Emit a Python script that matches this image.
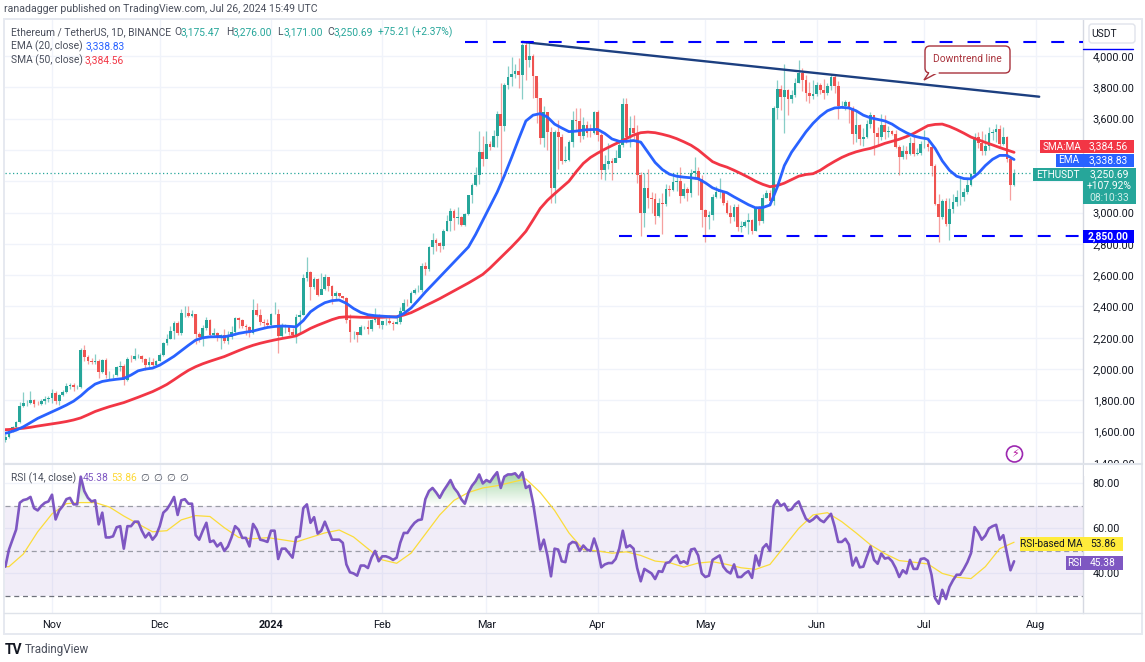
import numpy as np, pandas as pd, seaborn as sns
import matplotlib
matplotlib.use("Agg")
import matplotlib.pyplot as plt
from matplotlib.patches import Rectangle, FancyBboxPatch, Polygon, Circle
from matplotlib.path import Path
from matplotlib.colors import LinearSegmentedColormap

# ---- daily closes / highs / lows ----
oct_c=[1567,1605,1630,1665,1765,1785,1785,1803,1778,1777,1795,1810,1815]
oct_h=[1585,1620,1638,1670,1790,1855,1805,1862,1810,1797,1812,1826,1826]
oct_l=[1535,1560,1595,1625,1655,1755,1762,1780,1760,1768,1770,1780,1790]
nov_c=[1846,1795,1833,1855,1893,1900,1886,1888,2121,2077,2052,2045,2054,1980,2058,1961,1961,1963,2013,2022,1930,2063,2062,2081,2084,2063,2027,2048,2029,2052]
nov_h=[1870,1862,1838,1868,1910,1908,1910,1900,2135,2155,2090,2068,2098,2062,2062,2068,1990,1968,2022,2050,2030,2075,2090,2133,2095,2090,2070,2075,2070,2060]
nov_l=[1785,1775,1770,1825,1850,1875,1860,1875,1880,2050,2030,2035,2030,1940,1975,1945,1935,1945,1958,1985,1900,1925,2048,2055,2070,2045,1995,2015,2020,2025]
dec_c=[2087,2166,2193,2243,2293,2232,2358,2358,2342,2352,2225,2202,2260,2316,2220,2228,2197,2217,2178,2202,2240,2326,2315,2272,2270,2230,2380,2345,2300,2292,2281]
dec_h=[2100,2170,2225,2275,2305,2310,2385,2405,2400,2375,2352,2240,2280,2332,2322,2265,2240,2225,2258,2245,2275,2335,2330,2320,2290,2275,2445,2420,2385,2320,2320]
dec_l=[2050,2085,2155,2190,2195,2215,2220,2335,2330,2330,2160,2170,2150,2250,2205,2205,2180,2130,2165,2160,2195,2220,2265,2265,2220,2205,2225,2340,2280,2270,2260]
jan_c=[2352,2355,2210,2268,2269,2240,2220,2330,2344,2584,2617,2525,2577,2472,2512,2587,2528,2468,2489,2470,2453,2313,2235,2235,2218,2268,2268,2257,2316,2345,2283]
jan_h=[2358,2430,2385,2295,2285,2275,2265,2355,2375,2610,2717,2625,2590,2580,2615,2605,2590,2540,2500,2485,2470,2460,2350,2245,2240,2280,2275,2312,2320,2390,2350]
jan_l=[2268,2350,2100,2205,2230,2220,2220,2165,2230,2345,2560,2440,2512,2470,2495,2505,2500,2415,2445,2460,2445,2295,2170,2195,2170,2215,2255,2225,2245,2300,2265]
feb_c=[2304,2310,2295,2290,2300,2373,2423,2422,2486,2503,2507,2660,2640,2778,2824,2803,2785,2880,2944,3013,2967,2971,2922,2992,3112,3178,3243,3385,3340]
feb_h=[2310,2325,2345,2305,2340,2395,2445,2445,2500,2520,2535,2680,2685,2785,2870,2835,2810,2895,2985,3030,3025,3035,2975,3000,3115,3190,3290,3520,3490]
feb_l=[2255,2280,2285,2250,2285,2290,2360,2405,2420,2480,2495,2490,2600,2625,2735,2755,2750,2770,2880,2885,2890,2925,2915,2915,2985,3060,3170,3185,3300]
mar_c=[3435,3420,3490,3630,3550,3815,3868,3885,3905,3880,4068,3975,4003,3875,3730,3475,3645,3515,3155,3516,3484,3330,3335,3452,3590,3585,3490,3560,3510,3507,3645]
mar_h=[3520,3460,3530,3650,3825,3830,3935,3995,3950,3985,4085,4090,4080,4010,3835,3680,3680,3645,3545,3530,3590,3500,3425,3465,3650,3670,3665,3610,3585,3565,3650]
mar_l=[3400,3400,3420,3420,3197,3520,3790,3810,3860,3793,3723,3845,3930,3730,3570,3440,3420,3400,3060,3060,3280,3310,3320,3330,3420,3530,3450,3470,3480,3480,3500]
apr_c=[3495,3271,3310,3329,3315,3346,3431,3693,3484,3540,3506,3239,3000,3154,3090,3085,2980,3062,3057,3148,3145,3197,3200,3105,3148,3125,3250,3263,3216,3015]
apr_h=[3655,3510,3370,3445,3350,3400,3460,3730,3730,3615,3620,3560,3260,3250,3280,3130,3125,3095,3125,3180,3175,3240,3260,3290,3190,3165,3280,3357,3290,3240]
apr_l=[3460,3215,3210,3275,3205,3320,3405,3420,3445,3420,3470,3190,2852,2910,3030,3000,2925,2970,2862,3040,3105,3140,3140,3060,3090,3075,3100,3215,3115,2910]
may_c=[2970,2985,3100,3130,3136,3058,2995,2970,3035,2905,2912,2940,2950,2880,3037,2945,3093,3122,3071,3665,3787,3738,3780,3725,3748,3825,3890,3845,3765,3747,3760]
may_h=[3020,3010,3120,3170,3220,3135,3080,3050,3055,3055,2945,2955,2995,2960,3040,3040,3120,3145,3145,3680,3845,3815,3950,3790,3785,3860,3975,3925,3880,3835,3845]
may_l=[2813,2895,2955,3090,3090,3045,2990,2935,2945,2880,2875,2905,2865,2860,2880,2920,2935,3090,3050,3050,3600,3655,3510,3620,3700,3735,3825,3775,3715,3700,3725]
jun_c=[3815,3780,3765,3810,3865,3810,3680,3680,3705,3665,3500,3560,3470,3480,3565,3620,3510,3480,3560,3515,3520,3500,3420,3355,3395,3375,3445,3375,3378,3435]
jun_h=[3835,3830,3850,3830,3888,3880,3840,3715,3720,3715,3680,3655,3565,3540,3590,3640,3625,3545,3630,3620,3555,3525,3525,3430,3430,3425,3480,3490,3415,3460]
jun_l=[3745,3755,3725,3750,3780,3765,3600,3670,3655,3575,3440,3450,3430,3425,3475,3540,3365,3430,3465,3470,3480,3495,3410,3240,3340,3340,3365,3360,3370,3365]
jul_c=[3440,3420,3295,3052,2973,3073,2924,3020,3065,3100,3100,3130,3175,3245,3485,3445,3390,3425,3505,3515,3535,3440,3480,3340,3175,3250.69]
jul_h=[3525,3465,3430,3310,3120,3085,3095,3095,3120,3145,3220,3155,3220,3255,3505,3515,3520,3500,3545,3535,3565,3560,3545,3490,3345,3276]
jul_l=[3410,3395,3235,3045,2809,2960,2915,2825,3000,3040,3050,3075,3120,3170,3225,3410,3370,3370,3400,3465,3450,3410,3430,3320,3083,3171]
first_open=1545

# EMA 20 and SMA 50, read every second day; RSI MA every fourth day; all end on the last candle
ema20=[1580,1586,1595,1610,1631,1658,1685,1706,1727,1748,1770,1795,1829,1870,1904,1921,1929,1935,1940,1962,1989,2000,2006,2025,2053,2082,2117,2152,2185,2200,2206,2207,2206,2216,2228,2236,2243,2255,2266,2272,2275,2273,2270,2310,2366,2398,2424,2437,2441,2420,2387,2362,2347,2341,2338,2335,2332,2355,2390,2440,2492,2540,2588,2636,2684,2732,2780,2860,2950,3040,3130,3235,3350,3470,3585,3622,3632,3610,3565,3540,3517,3520,3527,3530,3531,3505,3470,3455,3455,3460,3450,3385,3320,3275,3245,3232,3226,3222,3216,3190,3158,3140,3127,3100,3075,3050,3030,3032,3048,3160,3300,3385,3450,3515,3570,3615,3650,3668,3672,3668,3650,3622,3605,3595,3585,3565,3535,3510,3489,3478,3470,3410,3330,3270,3232,3217,3215,3250,3300,3340,3365,3365,3338.83]
sma50=[1610,1612,1614,1618,1622,1628,1636,1643,1650,1657,1665,1675,1688,1708,1729,1745,1760,1773,1786,1803,1820,1838,1856,1878,1902,1932,1963,1992,2015,2034,2050,2065,2080,2099,2118,2136,2152,2165,2176,2186,2195,2203,2212,2235,2260,2280,2298,2316,2330,2334,2333,2331,2330,2330,2331,2333,2334,2345,2360,2382,2405,2427,2450,2475,2500,2525,2550,2577,2605,2645,2690,2735,2780,2828,2880,2952,3026,3078,3120,3160,3200,3260,3314,3352,3380,3405,3428,3450,3472,3495,3510,3514,3510,3500,3488,3472,3452,3430,3400,3362,3325,3305,3290,3270,3248,3225,3200,3180,3165,3172,3188,3210,3232,3243,3248,3270,3300,3327,3352,3372,3388,3400,3410,3425,3442,3455,3468,3485,3505,3530,3555,3563,3565,3550,3530,3507,3482,3465,3448,3432,3415,3400,3384.56]
rsi_ma=[43,43,48.6,58.5,66.5,71,71.5,71.5,69.5,65.5,62,58.5,59,63.8,65.7,65.3,60.3,56,55.4,55.9,55,54,56,58,59.3,56.2,51,46,44.5,49,57.5,66,72.5,76,78,79,80.5,82,76,68,58,50.6,50,49,49.6,48,45.5,44.8,42.8,44.6,45.2,44,42.5,41.8,44,52,60,66,67,63,58,52.7,48.8,45.7,45,44.2,40,38.3,37.7,43,51,53.86]
# RSI(14), daily
rsi_vals=[43,50.6,55,59.5,71.4,72.6,73,74,69,68,
70,71.4,72,75,64,68,70,73,73.6,70.7,
70.7,83,76.6,73.6,72,72.5,61.8,67,56,56,
56.5,60.5,61,51,61,61,63,63,59,56,
58,55,57,61,67,68.5,71,74,66,72.5,
73,71,71,57,55,59,62.5,54,54.6,52,
53.5,50,52,56,61,59.5,55.8,55.8,52,62,
59.5,55,54.6,54,59,59,46.4,51,51,49,
47,56,56.5,69,70.7,62.5,65,57.7,59,63,
59,55,55,55,53.6,44,40.5,40,39,43.5,
43.5,42.4,47,50,45.4,47.6,47.6,47,46,47,
53.6,58,58,60.5,62.5,63.7,64,73,76.6,78,
76,73.6,76.6,79,81.5,78,76,73,71,76,
79,81,84,80,81.5,80.6,83,85,78,83,
84,84,84.5,82.6,85,78,79,71.4,61,50.6,
55,48,38.7,51,50.6,45.4,45,
52.8,54,53.6,50,52.4,50.6,50,55.5,50.6,42.7,
44,44.6,44.6,46.4,51,59,51.6,52.5,51,42.4,
36.5,42,41,40,37.5,41,40.7,44.6,45,47,
48,44.6,45.4,44.3,50.6,51,48,40,38.4,39,
46,47,48,43,41,40,44,38.4,38.4,40,
41,38,48,43.5,51.3,53,50,70,72.5,70,
71,68,68.5,70.7,72,68,64.3,63,64,65.5,
63.7,62.8,64.7,66.5,61,54,54,55.4,52.8,43.5,
47,42.7,43,47.6,52,46,44.3,48.8,46.6,47,
45.4,42.4,38.4,41.4,40,46,42,42,46.4,46.7,
45.6,39.4,29,26.5,32.7,28.6,34,37,39.4,39.4,
42,45,49,60.6,58.3,55,56.8,60,61,61.6,
55,57,49,41.4,45.38]

month_starts=[0,30,61,92,121,152,182,213,243,274]
month_labels=["Nov","Dec","2024","Feb","Mar","Apr","May","Jun","Jul","Aug"]
price_ticks=[1400,1600,1800,2000,2200,2400,2600,2800,3000,3200,3400,3600,3800,4000]
hidden_price_labels=[3200,3400]   # covered by the price tags in the reference
rsi_ticks=[40,60,80]
top_level=4090; support_level=2850
trend_days=[131,275]; trend_prices=[4090,3740]

closes=np.array(oct_c+nov_c+dec_c+jan_c+feb_c+mar_c+apr_c+may_c+jun_c+jul_c,float)
highs=np.array(oct_h+nov_h+dec_h+jan_h+feb_h+mar_h+apr_h+may_h+jun_h+jul_h,float)
lows=np.array(oct_l+nov_l+dec_l+jan_l+feb_l+mar_l+apr_l+may_l+jun_l+jul_l,float)
opens=np.r_[first_open,closes[:-1]]
last_day=268
days=np.arange(last_day-len(closes)+1,last_day+1)
ema_days=np.arange(last_day-2*(len(ema20)-1),last_day+1,2)
sma_days=np.arange(last_day-2*(len(sma50)-1),last_day+1,2)
ma_days=np.arange(last_day-4*(len(rsi_ma)-1),last_day+1,4)
rsi_days=np.arange(last_day-len(rsi_vals)+1,last_day+1)
rsi_arr=np.array(rsi_vals)

GREEN="#26a69a"; RED="#ef5350"; BLUE="#2962ff"; SMAC="#f23645"; PURPLE="#7e57c2"; YEL="#ffeb3b"
GRID="#f0f3fa"; INK="#131722"; GREY="#4a4f5c"

sns.set_theme(style="white",rc={"axes.facecolor":"white","figure.facecolor":"white"})
FF=["Roboto","DejaVu Sans"]
plt.rcParams["font.family"]=FF

W,H=1145,662
fig=plt.figure(figsize=(W/100,H/100),dpi=100)
def axpx(l,t,r,b,**k):
    return fig.add_axes([l/W,1-b/H,(r-l)/W,(b-t)/H],**k)
ax=axpx(5,20,1083,463); ar=axpx(5,465,1083,613)
XL=(-13.1,287.2)

# ---- price pane ----
ax.set_xlim(XL); ax.set_ylim(1400,4230)
ax.grid(True,color=GRID,lw=1); ax.set_axisbelow(True)
up=closes>=opens
cols=np.where(up,GREEN,RED)
ax.vlines(days,lows,highs,colors=cols,lw=0.9,alpha=0.55,zorder=2)
ax.bar(days,np.abs(closes-opens),bottom=np.minimum(opens,closes),width=0.76,color=cols,lw=0,zorder=3)
ax.axhline(closes[-1],color=GREEN,lw=0.9,ls=(0,(1,2)),zorder=1.5)
sns.lineplot(x=sma_days,y=sma50,ax=ax,color=SMAC,lw=2.0,errorbar=None,zorder=4)
sns.lineplot(x=ema_days,y=ema20,ax=ax,color=BLUE,lw=2.0,errorbar=None,zorder=5)
sns.lineplot(x=trend_days,y=trend_prices,ax=ax,color="#1c3f80",lw=1.7,errorbar=None,zorder=6)
ax.plot([115,XL[1]],[top_level]*2,color="#0000ff",lw=1.5,dashes=(6.2,7.2),zorder=6)
ax.plot([158,XL[1]],[support_level]*2,color="#0000ff",lw=1.5,dashes=(6.2,7.2),zorder=6)
ax.yaxis.tick_right()
ax.set_yticks(price_ticks)
ax.set_yticklabels(["" if p in hidden_price_labels else f"{p:,.2f}" for p in price_ticks],fontsize=7.8,color=INK)
ax.set_xticks(month_starts); ax.set_xticklabels([])
ax.tick_params(length=0,pad=7)
ax.set_xlabel(""); ax.set_ylabel("")

# ---- RSI pane ----
ar.set_xlim(XL); ar.set_ylim(22.4,88.2)
ar.set_yticks(rsi_ticks+[20]); ar.grid(True,color=GRID,lw=1); ar.set_axisbelow(True)
ar.axhspan(30,70,color=PURPLE,alpha=0.1,lw=0,zorder=1)
for lv,c in ((70,"#9a9ca6"),(50,"#9a9ca6"),(30,"#6f727c")):
    ar.axhline(lv,color=c,lw=0.9,ls=(0,(4,3)),zorder=2)
poly=ar.fill_between(rsi_days,70,rsi_arr,where=rsi_arr>70,interpolate=True,color="none",lw=0)
cmap=LinearSegmentedColormap.from_list("g",[(0.3,0.69,0.31,0.0),(0.3,0.69,0.31,0.55)])
im=ar.imshow(np.linspace(0,1,64).reshape(-1,1),extent=(XL[0],XL[1],70,86),origin="lower",aspect="auto",cmap=cmap,zorder=2.5)
im.set_clip_path(Path.make_compound_path(*poly.get_paths()),transform=ar.transData)
ar.set_xlim(XL); ar.set_ylim(22.4,88.2)
sns.lineplot(x=ma_days,y=rsi_ma,ax=ar,color="#fbdc3a",lw=0.9,errorbar=None,zorder=3)
sns.lineplot(x=rsi_days,y=rsi_arr,ax=ar,color=PURPLE,lw=1.9,errorbar=None,zorder=4)
ar.yaxis.tick_right()
ar.set_yticks(rsi_ticks); ar.set_yticklabels([f"{v:.2f}" for v in rsi_ticks],fontsize=7.8,color=INK)
ar.set_xticks(month_starts)
ar.set_xticklabels(month_labels,fontsize=7.8,color=INK)
for t in ar.get_xticklabels():
    if t.get_text()=="2024": t.set_fontweight("bold")
ar.tick_params(length=0,pad=5)
ar.tick_params(axis="y",pad=7)
ar.set_xlabel(""); ar.set_ylabel("")
for a in (ax,ar):
    for s in ("top","left","bottom"): a.spines[s].set_visible(False)
    a.spines["right"].set_color("#d6d9e2"); a.spines["right"].set_linewidth(1)

# ---- overlay in pixels for labels and tags ----
ov=fig.add_axes([0,0,1,1],zorder=10); ov.set_xlim(0,W); ov.set_ylim(H,0); ov.axis("off"); ov.patch.set_alpha(0)
def T(x,y,s,c=INK,fs=7.6,ha="left",**k):
    ov.text(x,y,s,color=c,fontsize=fs,ha=ha,va="center",**k)
def R(x0,y0,x1,y1,c,**k):
    ov.add_patch(Rectangle((x0,y0),x1-x0,y1-y0,facecolor=c,edgecolor="none",**k))
R(1084,464,1141,476,"white")
ov.add_patch(Rectangle((3.5,18.5),1138,615,fill=False,edgecolor="#e6e9f0",lw=1.4))
ov.plot([4,1142],[464,464],color="#dfe3ea",lw=1.5)
ov.plot([4,1142],[613,613],color="#dfe3ea",lw=1)

T(4,9,"ranadagger published on TradingView.com, Jul 26, 2024 15:49 UTC",GREY,7.6)
T(11,32,"Ethereum / TetherUS, 1D, BINANCE",GREY,7.4)
for x,s,v in ((174,"O","3,175.47"),(226,"H","3,276.00"),(277,"L","3,171.00"),(327,"C","3,250.69")):
    T(x,32,s,GREY,7.4); T(x+7,32,v,GREEN,7.4)
T(378,32,"+75.21 (+2.37%)",GREEN,7.4)
T(11,46,"EMA (20, close)",GREY,7.4); T(86,46,"3,338.83",BLUE,7.4)
T(11,60,"SMA (50, close)",GREY,7.4); T(85,60,"3,384.56",SMAC,7.4)
T(11,478,"RSI (14, close)",GREY,7.4); T(83,478,"45.38",PURPLE,7.4); T(111,478,"53.86","#fdd835",7.4)
for x in (145,158,171,184):
    T(x,478,"\u2205",GREY,7.4,ha="center")

# axis boxes
ov.add_patch(FancyBboxPatch((1089,24),46,19,boxstyle="round,pad=0,rounding_size=3",facecolor="white",edgecolor="#e0e3eb",lw=1))
T(1104,34,"USDT",INK,7.4,ha="center")
ov.plot([1083,1133],[48.5,48.5],color="#0000ff",lw=1)
VF=7.4
R(1040,140,1083,153,SMAC); R(1083,140,1134,153,SMAC)
T(1062,146.5,"SMA:MA","white",7.2,ha="center"); T(1108,146.5,"3,384.56","white",VF,ha="center")
R(1056,153.5,1083,167,BLUE); R(1083,153.5,1134,167,BLUE)
T(1069,160,"EMA","white",7.2,ha="center"); T(1108,160,"3,338.83","white",VF,ha="center")
R(1033,167.5,1083,181,GREEN); R(1083,167.5,1136,204,GREEN)
T(1058,174.5,"ETHUSDT","white",7.2,ha="center"); T(1109,174,"3,250.69","white",VF,ha="center")
T(1109,186,"+107.92%","white",VF,ha="center"); T(1109,198,"08:10:33","#cfeee9",VF,ha="center")
R(1083,230,1134,243,"#0000ff"); T(1108,236.5,"2,850.00","white",VF,ha="center",fontweight="bold")
R(1020,537,1083,551,YEL); R(1083,537,1123,551,YEL)
T(1051,544,"RSI-based MA",INK,7.2,ha="center"); T(1103,544,"53.86",INK,7.4,ha="center")
R(1066,556,1083,569.5,PURPLE); R(1083,556,1123,569.5,PURPLE)
T(1074,563,"RSI","white",7.2,ha="center"); T(1103,563,"45.38","white",7.4,ha="center")

# callout
BR="#a8323c"
ov.add_patch(FancyBboxPatch((925,46),85,27,boxstyle="round,pad=0,rounding_size=5",facecolor="white",edgecolor=BR,lw=1))
ov.add_patch(Polygon([(929,72.5),(924,80),(938,72.5)],closed=False,facecolor="white",edgecolor=BR,lw=1))
ov.plot([930,937.5],[73,73],color="white",lw=1.4)
T(967.5,59,"Downtrend line",BR,7.4,ha="center")

# bolt icon
ov.add_patch(Circle((1014.5,454),8,fill=False,edgecolor="#9c27b0",lw=1.2))
ov.text(1014.5,454,"\u26a1",color="#b5179e",fontsize=8,ha="center",va="center",family="DejaVu Sans")

# logo
T(5,650,"TV",INK,10,fontweight="bold")
T(25,650,"TradingView",GREY,8.4)

fig.savefig("out.png",dpi=100,facecolor="white")
